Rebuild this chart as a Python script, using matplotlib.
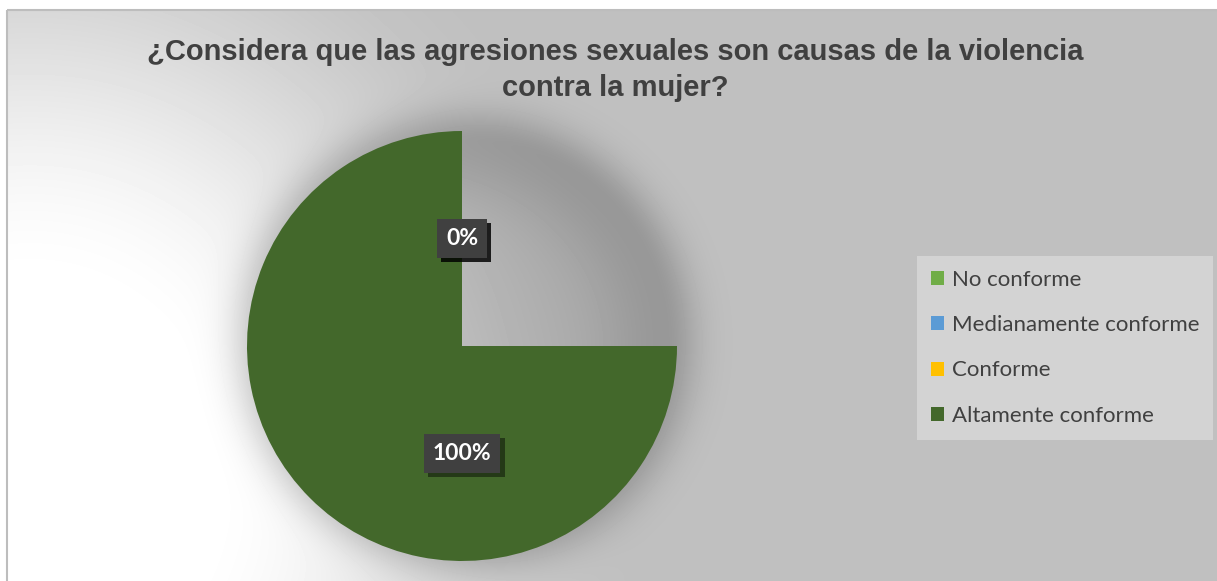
import numpy as np
import matplotlib.pyplot as plt
from matplotlib.patches import Patch, Rectangle
from matplotlib import patheffects as pe

W, H = 1217, 581

title = "¿Considera que las agresiones sexuales son causas de la violencia\ncontra la mujer?"
categories = ["No conforme", "Medianamente conforme", "Conforme", "Altamente conforme"]
percent = [0, 0, 0, 100]
colors = ["#70ad47", "#5b9bd5", "#ffc000", "#43682b"]

# the source rendering left the first quarter of the full slice undrawn
missing_sweep = 90

fig = plt.figure(figsize=(W / 100, H / 100), dpi=100)
fig.patch.set_facecolor("white")

# background: gray chart area with a white radial glow from the lower left
bg = fig.add_axes([0, 0, 1, 1])
bg.set_xlim(0, W)
bg.set_ylim(H, 0)
bg.axis("off")

x0, y0 = 7, 10
xs = np.arange(x0, W) + 0.5
ys = np.arange(y0, H) + 0.5
X, Y = np.meshgrid(xs, ys)
d = np.hypot(X - 30, (Y - 480) * 0.92)
t = np.clip((d - 170) / 450, 0, 1)
t = t * t * (3 - 2 * t)
base = 255 - (255 - 192) * t

# soft shadow round the pie
cx, cy, R = 462, 346, 215
r = np.hypot(X - cx - 3, Y - cy + 4)
ring = 200
dark = np.where(
    r > ring,
    np.exp(-((r - ring) / 34) ** 2),
    0.55 + 0.45 * np.exp(-((ring - r) / 60) ** 2),
)
img = base * (1 - 0.21 * dark)
bg.imshow(img, cmap="gray", vmin=0, vmax=255, extent=(x0, W, H, y0),
          interpolation="bilinear", aspect="auto")
bg.add_patch(Rectangle((x0, y0), W - x0 + 5, H - y0 + 5, fill=False,
                       edgecolor="#bdbdbd", linewidth=1.5))

fig.text((x0 + W) / 2 / W + 0.003, 1 - 38 / H, title, ha="center", va="top",
         fontsize=21, fontweight="bold", color="#404040",
         family="Liberation Sans", linespacing=1.38)

# pie
ax = fig.add_axes([(cx - R) / W, (H - cy - R) / H, 2 * R / W, 2 * R / H])
wedges, _, autotexts = ax.pie(
    percent, colors=colors, startangle=90, counterclock=False,
    autopct=lambda p: f"{p:.0f}%", pctdistance=0.5,
    wedgeprops={"linewidth": 0},
    textprops={"color": "white", "fontsize": 16.5, "fontweight": "bold",
               "family": "Lato"},
)
wedges[-1].set_theta2(wedges[-1].theta2 - missing_sweep)
ax.set_xlim(-1, 1)
ax.set_ylim(-1, 1)

for txt in autotexts:
    txt.set_bbox({"boxstyle": "square,pad=0.4", "facecolor": "#404040",
                  "edgecolor": "none"})
    txt.get_bbox_patch().set_path_effects(
        [pe.SimplePatchShadow(offset=(3, -3), shadow_rgbFace="black", alpha=0.45),
         pe.Normal()])

handles = [Patch(facecolor=c, edgecolor="none") for c in colors]
leg = fig.legend(
    handles, categories, loc="upper left",
    bbox_to_anchor=(917 / W, 1 - 256 / H), borderaxespad=0,
    frameon=True, fancybox=False, facecolor="#d3d3d3", edgecolor="none",
    framealpha=1, prop={"family": "Lato", "size": 16},
    handlelength=0.6, handleheight=0.6, handletextpad=0.35,
    labelspacing=1.14, borderpad=0.62,
)
for txt in leg.get_texts():
    txt.set_color("#404040")

fig.savefig("out.png", dpi=100)
